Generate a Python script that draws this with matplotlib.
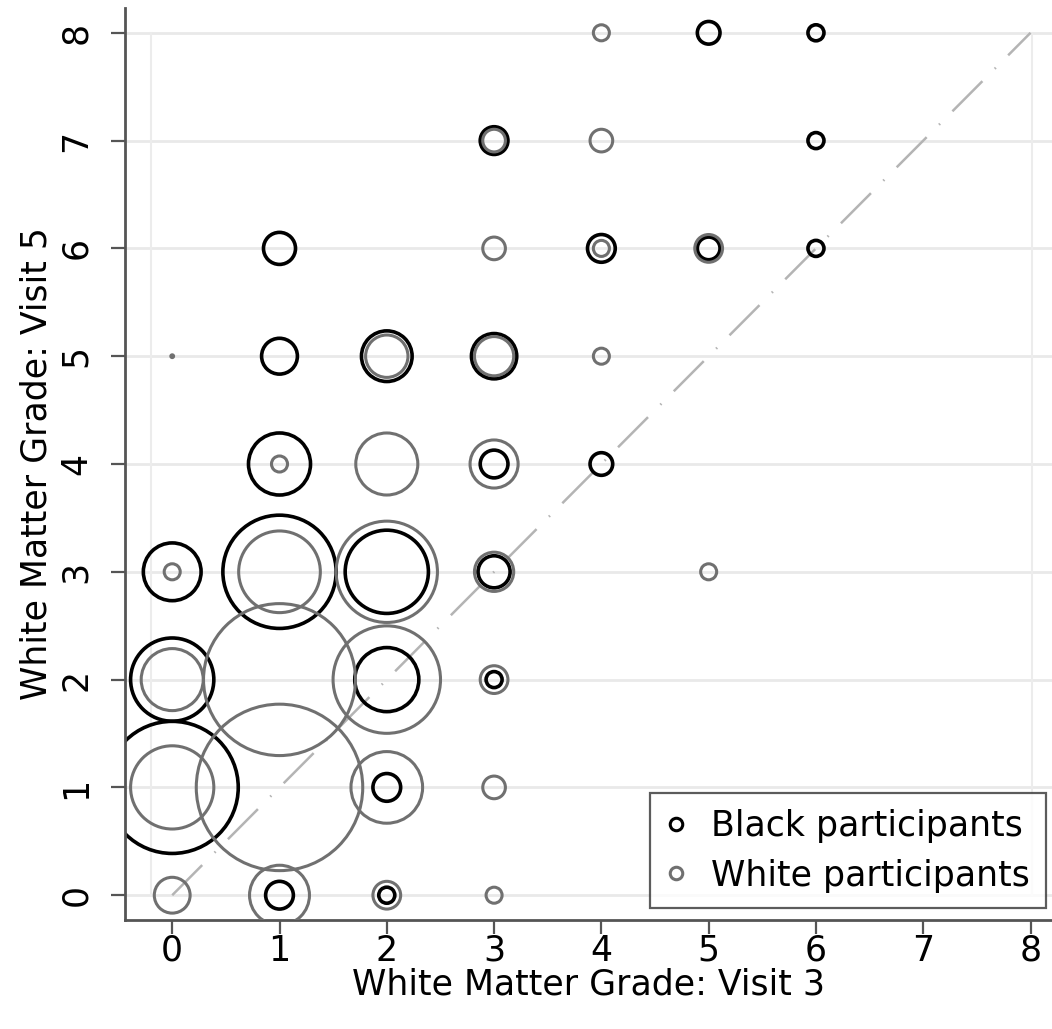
import numpy as np
import matplotlib
matplotlib.use("Agg")
import matplotlib.pyplot as plt
from matplotlib.lines import Line2D

# grade at visit 3 (x), grade at visit 5 (y), number of participants
black_x = [1, 2, 0, 2, 0, 2, 3, 0, 1, 2, 3, 1, 3, 4, 1, 2, 3, 1, 4, 5, 6, 3, 6, 5, 6]
black_y = [0, 0, 1, 1, 2, 2, 2, 3, 3, 3, 3, 4, 4, 4, 5, 5, 5, 6, 6, 6, 6, 7, 7, 8, 8]
black_n = [3, 1, 68, 3, 27, 16, 1, 13, 50, 27, 4, 15, 3, 2, 5, 10, 8, 4, 3, 2, 1, 3, 1, 2, 1]

white_x = [0, 1, 2, 3, 0, 1, 2, 3, 0, 1, 2, 3, 0, 1, 2, 3, 5, 1, 2, 3,
           0, 2, 3, 4, 3, 4, 5, 3, 4, 4]
white_y = [0, 0, 0, 0, 1, 1, 1, 1, 2, 2, 2, 2, 3, 3, 3, 3, 3, 4, 4, 4,
           5, 5, 5, 5, 6, 6, 6, 7, 7, 8]
white_n = [5, 14, 3, 1, 27, 108, 20, 2, 15, 90, 45, 3, 1, 26, 40, 6, 1, 1, 15, 9,
           0.03, 7, 6, 1, 2, 1, 3, 2, 2, 1]

ticks = [0, 1, 2, 3, 4, 5, 6, 7, 8]
labels = ["Black participants", "White participants"]

BLACK = "#000000"
GRAY = "#707070"
SCALE = 133  # marker area (pt^2) per participant
FS = 25

fig = plt.figure(figsize=(10.52, 10.29), dpi=100)
ax = fig.add_axes([125 / 1052, 1 - 920 / 1029, 1 - 125 / 1052, (920 - 8) / 1029])

ax.set_xlim(-0.44, 8.2)
ax.set_ylim(-0.23, 8.23)

for y in ticks:
    ax.axhline(y, color="#e9e9e9", lw=2, zorder=0)
ax.plot([-0.2, -0.2], [0, 8], color="#ececec", lw=1.5, zorder=0)
ax.plot([8.01, 8.01], [0, 8], color="#ececec", lw=1.5, zorder=0)

ax.plot([0, 8], [0, 8], color="#b4b4b4", lw=1.8,
        linestyle=(0, (17, 7, 0.6, 7)), zorder=1)

ax.scatter(black_x, black_y, s=np.array(black_n) * SCALE, facecolors="none",
           edgecolors=BLACK, linewidths=2.6, zorder=2)
ax.scatter(white_x, white_y, s=np.array(white_n) * SCALE, facecolors="none",
           edgecolors=GRAY, linewidths=2.2, zorder=3)

ax.set_xticks(ticks)
ax.set_yticks(ticks)
ax.tick_params(axis="both", length=10, width=1.6, color="#555555",
               labelsize=FS, labelcolor="black")
ax.tick_params(axis="x", pad=0)
ax.tick_params(axis="y", pad=13)
for lab in ax.get_yticklabels():
    lab.set_rotation(90)
    lab.set_va("center")

for side in ["top", "right"]:
    ax.spines[side].set_visible(False)
for side in ["left", "bottom"]:
    ax.spines[side].set_color("#555555")
    ax.spines[side].set_linewidth(2)

ax.set_xlabel("White Matter Grade: Visit 3", fontsize=FS, labelpad=0)
ax.set_ylabel("White Matter Grade: Visit 5", fontsize=FS, labelpad=4)

handles = [
    Line2D([], [], marker="o", ls="none", markersize=9, markerfacecolor="none",
           markeredgecolor=BLACK, markeredgewidth=2.2),
    Line2D([], [], marker="o", ls="none", markersize=9, markerfacecolor="none",
           markeredgecolor=GRAY, markeredgewidth=2.2),
]
leg = ax.legend(handles, labels, loc="lower right", bbox_to_anchor=(0.993, 0.013),
                fontsize=FS, frameon=True, fancybox=False, handlelength=0.6,
                handletextpad=0.7, borderpad=0.45, labelspacing=0.45,
                borderaxespad=0)
leg.get_frame().set_edgecolor("#333333")
leg.get_frame().set_linewidth(1.6)

fig.savefig("out.png", dpi=100)
